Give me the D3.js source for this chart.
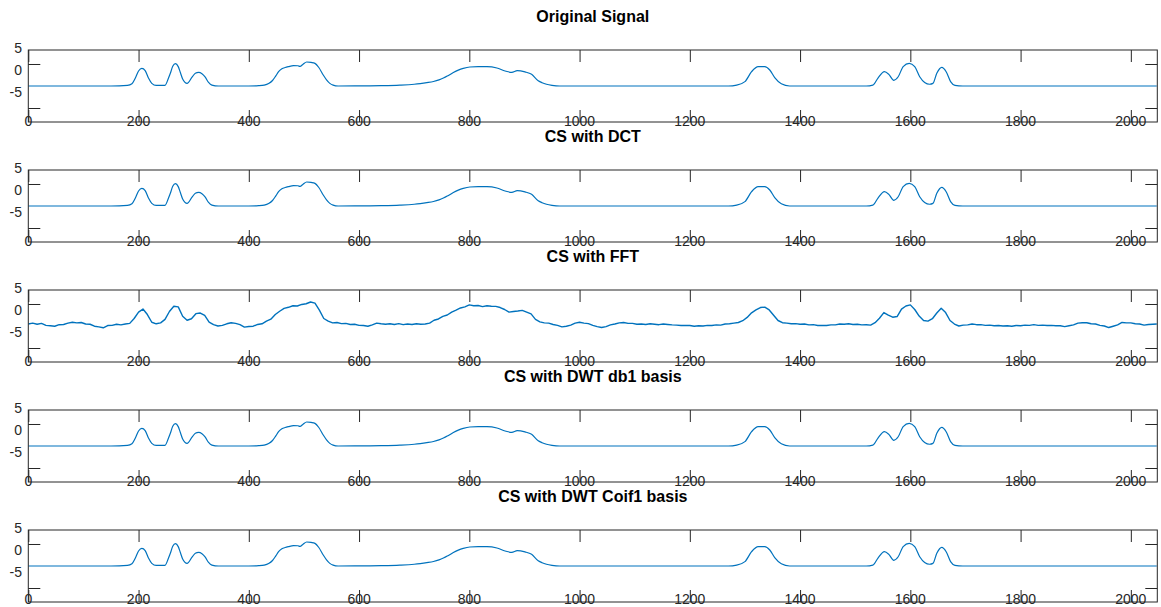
<!DOCTYPE html>
<html>
<head>
<meta charset="utf-8">
<script src="https://cdn.jsdelivr.net/npm/d3@7"></script>
<style>
    html, body { margin: 0; padding: 0; background: #fff; }
    svg { display: block; font-family: "Liberation Sans", Arial, Helvetica, sans-serif; }
    .domain { display: none; }
</style>
</head>
<body>
<div id="chart"></div>
<script>
// ========== Data ==========
const titles = ["Original Signal", "CS with DCT", "CS with FFT", "CS with DWT db1 basis", "CS with DWT Coif1 basis"];
const xTicks = [0, 200, 400, 600, 800, 1000, 1200, 1400, 1600, 1800, 2000];
const yTickMarks = [0, -10];
const yTickLabels = [5, 0, -5];

// sample positions of the smooth reconstructions
const smoothX = [
    0, 150, 180, 188, 194, 200, 206, 212, 218, 224,
    232, 248, 254, 258, 262, 267, 272, 276, 280, 288,
    297, 303, 309, 315, 321, 327, 333, 345, 400, 418,
    428, 436, 443, 449, 454, 460, 466, 472, 481, 489,
    493, 498, 505, 513, 520, 527, 535, 541, 547, 553,
    562, 600, 640, 674, 700, 711, 723, 735, 745, 753,
    762, 771, 780, 789, 801, 816, 832, 850, 865, 877,
    887, 901, 913, 925, 932, 940, 950, 964, 1270, 1285,
    1300, 1312, 1324, 1336, 1345, 1354, 1366, 1381, 1520, 1532,
    1541, 1553, 1561, 1570, 1578, 1587, 1598, 1608, 1617, 1626,
    1635, 1641, 1648, 1657, 1665, 1673, 1681, 1695, 2047];

const originalY = [
    -5.0, -5.0, -4.88, -4.5, -3.25, -1.6, -1.0, -1.5, -3.2, -4.4,
    -4.88, -4.85, -3.3, -2.0, -0.5, 0.1, -0.6, -2.0, -3.4, -4.4,
    -3.0, -2.1, -1.9, -2.2, -3.0, -4.2, -4.8, -5.0, -5.0, -4.93,
    -4.8, -4.45, -3.75, -2.7, -1.75, -1.1, -0.8, -0.6, -0.38, -0.4,
    -0.55, -0.1, 0.45, 0.35, 0.15, -0.8, -2.5, -3.6, -4.4, -4.8,
    -5.0, -4.97, -4.92, -4.8, -4.6, -4.45, -4.24, -3.98, -3.62, -3.2,
    -2.6, -1.95, -1.4, -1.0, -0.68, -0.6, -0.6, -0.9, -1.6, -1.9,
    -1.5, -1.8, -2.35, -3.8, -4.25, -4.6, -4.85, -5.0, -5.0, -4.8,
    -4.0, -1.75, -0.6, -0.6, -1.36, -3.1, -4.5, -5.0, -5.0, -4.8,
    -3.25, -1.75, -2.35, -3.7, -2.9, -0.6, 0.15, -0.6, -2.9, -4.2,
    -4.6, -4.4, -2.1, -0.76, -1.75, -4.0, -4.85, -5.0, -5.0];

const dctY = [
    -5.0, -5.0, -4.88, -4.5, -3.25, -1.6, -1.0, -1.5, -3.2, -4.4,
    -4.88, -4.85, -3.3, -2.0, -0.5, 0.1, -0.6, -2.0, -3.4, -4.4,
    -3.0, -2.1, -1.9, -2.2, -3.0, -4.2, -4.8, -5.0, -5.0, -4.93,
    -4.8, -4.45, -3.75, -2.7, -1.75, -1.1, -0.8, -0.6, -0.38, -0.4,
    -0.55, -0.1, 0.45, 0.35, 0.15, -0.8, -2.5, -3.6, -4.4, -4.8,
    -5.0, -4.97, -4.92, -4.8, -4.6, -4.45, -4.24, -3.98, -3.62, -3.2,
    -2.6, -1.95, -1.4, -1.0, -0.68, -0.6, -0.6, -0.9, -1.6, -1.9,
    -1.5, -1.8, -2.35, -3.8, -4.25, -4.6, -4.85, -5.0, -5.0, -4.8,
    -4.0, -1.75, -0.6, -0.6, -1.36, -3.1, -4.5, -5.0, -5.0, -4.8,
    -3.25, -1.75, -2.35, -3.7, -2.9, -0.6, 0.15, -0.6, -2.9, -4.2,
    -4.6, -4.4, -2.1, -0.76, -1.75, -4.0, -4.85, -5.0, -5.0];

const db1Y = [
    -5.0, -5.0, -4.88, -4.5, -3.25, -1.6, -1.0, -1.5, -3.2, -4.4,
    -4.88, -4.85, -3.3, -2.0, -0.5, 0.1, -0.6, -2.0, -3.4, -4.4,
    -3.0, -2.1, -1.9, -2.2, -3.0, -4.2, -4.8, -5.0, -5.0, -4.93,
    -4.8, -4.45, -3.75, -2.7, -1.75, -1.1, -0.8, -0.6, -0.38, -0.4,
    -0.55, -0.1, 0.45, 0.35, 0.15, -0.8, -2.5, -3.6, -4.4, -4.8,
    -5.0, -4.97, -4.92, -4.8, -4.6, -4.45, -4.24, -3.98, -3.62, -3.2,
    -2.6, -1.95, -1.4, -1.0, -0.68, -0.6, -0.6, -0.9, -1.6, -1.9,
    -1.5, -1.8, -2.35, -3.8, -4.25, -4.6, -4.85, -5.0, -5.0, -4.8,
    -4.0, -1.75, -0.6, -0.6, -1.36, -3.1, -4.5, -5.0, -5.0, -4.8,
    -3.25, -1.75, -2.35, -3.7, -2.9, -0.6, 0.15, -0.6, -2.9, -4.2,
    -4.6, -4.4, -2.1, -0.76, -1.75, -4.0, -4.85, -5.0, -5.0];

const coif1Y = [
    -5.0, -5.0, -4.88, -4.5, -3.25, -1.6, -1.0, -1.5, -3.2, -4.4,
    -4.88, -4.85, -3.3, -2.0, -0.5, 0.1, -0.6, -2.0, -3.4, -4.4,
    -3.0, -2.1, -1.9, -2.2, -3.0, -4.2, -4.8, -5.0, -5.0, -4.93,
    -4.8, -4.45, -3.75, -2.7, -1.75, -1.1, -0.8, -0.6, -0.38, -0.4,
    -0.55, -0.1, 0.45, 0.35, 0.15, -0.8, -2.5, -3.6, -4.4, -4.8,
    -5.0, -4.97, -4.92, -4.8, -4.6, -4.45, -4.24, -3.98, -3.62, -3.2,
    -2.6, -1.95, -1.4, -1.0, -0.68, -0.6, -0.6, -0.9, -1.6, -1.9,
    -1.5, -1.8, -2.35, -3.8, -4.25, -4.6, -4.85, -5.0, -5.0, -4.8,
    -4.0, -1.75, -0.6, -0.6, -1.36, -3.1, -4.5, -5.0, -5.0, -4.8,
    -3.25, -1.75, -2.35, -3.7, -2.9, -0.6, 0.15, -0.6, -2.9, -4.2,
    -4.6, -4.4, -2.1, -0.76, -1.75, -4.0, -4.85, -5.0, -5.0];

// FFT reconstruction, one value every 8 samples (last one at 2047)
const fftY = [
    -4.55, -4.35, -4.6, -4.4, -4.85, -4.95, -5.05, -4.7, -4.65, -4.35,
    -4.15, -4.3, -4.2, -4.55, -4.6, -5.05, -5.2, -5.4, -4.9, -4.85,
    -4.6, -4.75, -4.55, -4.4, -3.3, -1.85, -1.15, -2.4, -4.15, -4.5,
    -4.3, -3.5, -1.7, -0.5, -0.65, -2.8, -3.7, -3.35, -2.2, -2.05,
    -2.6, -4.1, -4.7, -5.0, -4.85, -4.5, -4.25, -4.4, -4.7, -5.25,
    -5.1, -5.05, -4.65, -4.5, -3.9, -3.45, -2.4, -1.65, -1.0, -0.75,
    -0.4, -0.45, -0.1, 0.05, 0.45, 0.2, -1.4, -3.3, -3.9, -4.3,
    -4.2, -4.45, -4.4, -4.65, -4.6, -4.85, -4.9, -5.05, -4.75, -4.35,
    -4.5, -4.6, -4.5, -4.65, -4.45, -4.7, -4.55, -4.65, -4.5, -4.6,
    -4.55, -4.35, -3.7, -3.4, -2.8, -2.5, -1.85, -1.4, -0.9, -0.65,
    -0.2, -0.4, -0.35, -0.6, -0.4, -0.5, -0.55, -0.8, -1.25, -1.85,
    -1.7, -1.6, -1.45, -1.85, -2.25, -3.5, -4.05, -4.3, -4.35, -4.65,
    -4.85, -5.2, -5.05, -4.8, -4.35, -4.15, -4.35, -4.45, -4.85, -5.15,
    -5.35, -5.15, -4.75, -4.55, -4.3, -4.2, -4.4, -4.4, -4.6, -4.55,
    -4.65, -4.5, -4.6, -4.7, -4.55, -4.65, -4.75, -4.8, -4.9, -4.85,
    -4.9, -5.05, -4.95, -5.0, -4.85, -4.9, -4.75, -4.8, -4.55, -4.5,
    -4.35, -4.2, -3.8, -3.05, -2.0, -1.35, -0.8, -0.7, -1.35, -2.55,
    -3.75, -4.25, -4.35, -4.5, -4.45, -4.6, -4.55, -4.75, -4.7, -4.9,
    -4.85, -4.9, -4.75, -4.75, -4.55, -4.6, -4.5, -4.65, -4.6, -4.75,
    -4.7, -4.8, -4.25, -3.25, -1.95, -2.55, -3.0, -2.85, -1.15, -0.45,
    -0.2, -1.25, -2.75, -3.75, -3.9, -3.35, -2.05, -0.95, -1.95, -3.75,
    -4.55, -5.0, -4.8, -4.75, -4.55, -4.7, -4.7, -4.85, -4.8, -4.95,
    -4.9, -5.0, -4.95, -5.05, -4.9, -4.95, -4.8, -4.85, -4.7, -4.85,
    -4.8, -4.9, -4.85, -4.95, -4.95, -5.15, -4.95, -4.75, -4.35, -4.25,
    -4.25, -4.5, -4.55, -4.85, -5.0, -5.35, -5.05, -4.75, -4.2, -4.3,
    -4.3, -4.5, -4.55, -4.8, -4.65, -4.6,
    -4.55];
const fftX = d3.range(0, 2048, 8).concat([2047]);

// ========== Layout ==========
const width = 1161, height = 607;
const left = 28.3, right = 1157.3;
const panelTops = [50, 170, 290, 410, 530];
const panelH = 72;
const lineColor = "#0072BD";
const axisColor = "#262626";

const series = [
    smoothX.map((x, i) => [x, originalY[i]]),
    smoothX.map((x, i) => [x, dctY[i]]),
    fftX.map((x, i) => [x, fftY[i]]),
    smoothX.map((x, i) => [x, db1Y[i]]),
    smoothX.map((x, i) => [x, coif1Y[i]])
];

const svg = d3.select("#chart").append("svg")
    .attr("width", width)
    .attr("height", height);

const x = d3.scaleLinear().domain([0, 2048]).range([left, right]);

series.forEach((data, k) => {
    const top = panelTops[k];
    const y = d3.scaleLinear().domain([-13.18, 3.18]).range([top + panelH, top]);
    const g = svg.append("g");

    // Title
    g.append("text")
        .attr("x", (left + right) / 2)
        .attr("y", top - 28)
        .attr("text-anchor", "middle")
        .attr("font-size", 16)
        .attr("font-weight", "bold")
        .attr("fill", "#000")
        .text(titles[k]);

    // Clip
    const clipId = "clip" + k;
    svg.append("clipPath").attr("id", clipId)
        .append("rect")
        .attr("x", left).attr("y", top)
        .attr("width", right - left).attr("height", panelH);

    // Line
    const curve = k === 2 ? d3.curveLinear : d3.curveMonotoneX;
    g.append("path")
        .datum(data)
        .attr("clip-path", `url(#${clipId})`)
        .attr("fill", "none")
        .attr("stroke", lineColor)
        .attr("stroke-width", k === 2 ? 1.4 : 1.2)
        .attr("stroke-linejoin", "round")
        .attr("d", d3.line().curve(curve).x(d => x(d[0])).y(d => y(d[1])));

    // Tick marks (MATLAB style, inward on all four sides)
    g.append("g").attr("transform", `translate(0,${top})`)
        .call(d3.axisBottom(x).tickValues(xTicks).tickSize(12).tickSizeOuter(0).tickFormat(""));
    g.append("g").attr("transform", `translate(0,${top + panelH})`)
        .call(d3.axisTop(x).tickValues(xTicks).tickSize(12).tickSizeOuter(0).tickFormat(""));
    g.append("g").attr("transform", `translate(${left},0)`)
        .call(d3.axisRight(y).tickValues(yTickMarks).tickSize(12).tickSizeOuter(0).tickFormat(""));
    g.append("g").attr("transform", `translate(${right},0)`)
        .call(d3.axisLeft(y).tickValues(yTickMarks).tickSize(12).tickSizeOuter(0).tickFormat(""));

    // Box
    g.append("rect")
        .attr("x", left).attr("y", top)
        .attr("width", right - left).attr("height", panelH)
        .attr("fill", "none")
        .attr("stroke", axisColor)
        .attr("stroke-width", 1);

    // X tick labels (overlapping bottom edge, as in the figure)
    g.selectAll(".xlabel")
        .data(xTicks)
        .enter().append("text")
        .attr("class", "xlabel")
        .attr("x", d => x(d))
        .attr("y", Math.min(top + 76, height - 3))
        .attr("text-anchor", "middle")
        .attr("font-size", 14)
        .attr("fill", axisColor)
        .text(d => d);

    // Y tick labels
    g.selectAll(".ylabel")
        .data(yTickLabels)
        .enter().append("text")
        .attr("class", "ylabel")
        .attr("x", 22)
        .attr("y", d => y(d) + 11)
        .attr("text-anchor", "end")
        .attr("font-size", 14)
        .attr("fill", axisColor)
        .text(d => d);
});

svg.selectAll(".tick line").attr("stroke", axisColor);
</script>
</body>
</html>
